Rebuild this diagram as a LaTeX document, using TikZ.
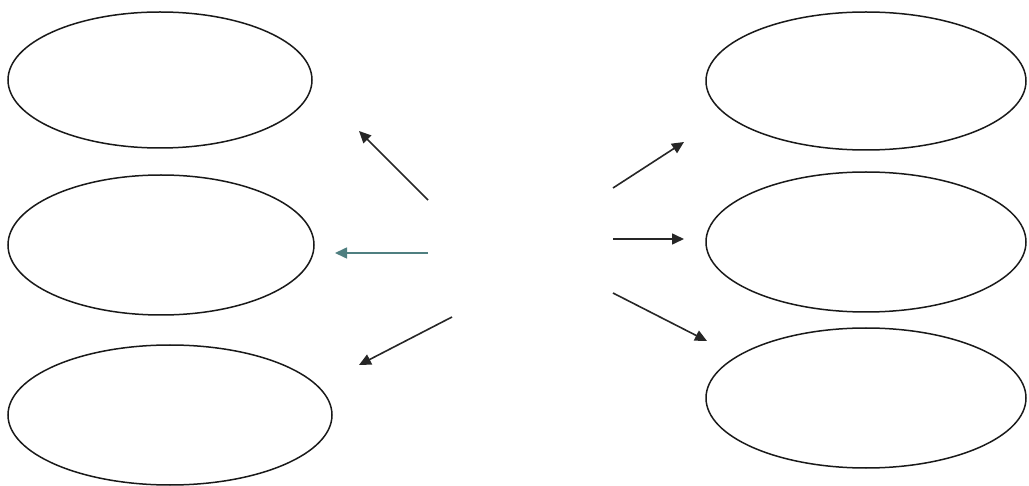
\documentclass[tikz,border=0pt]{standalone}
\usetikzlibrary{shapes.geometric,arrows.meta}
\definecolor{tealline}{HTML}{4F7F80}
\begin{document}
\begin{tikzpicture}[x=1pt,y=-1pt,
  oval/.style={draw=black!90,ellipse,line width=1.5pt,inner sep=0pt},
  arr/.style={draw=black!85,line width=1.6pt,-{Triangle[length=12pt,width=11pt]}}]
\useasboundingbox (0,0) rectangle (1029,486);
% left ellipses
\node[oval,minimum width=304pt,minimum height=136pt] (L1) at (160,80) {};
\node[oval,minimum width=306pt,minimum height=140pt] (L2) at (161,245) {};
\node[oval,minimum width=324pt,minimum height=140pt] (L3) at (170,415) {};
% right ellipses
\node[oval,minimum width=320pt,minimum height=138pt] (R1) at (866,81) {};
\node[oval,minimum width=320pt,minimum height=140pt] (R2) at (866,242) {};
\node[oval,minimum width=320pt,minimum height=140pt] (R3) at (866,398) {};
% arrow ends
\coordinate (a1s) at (428,200); \coordinate (a1e) at (359,131);
\coordinate (a2s) at (428,253); \coordinate (a2e) at (335,253);
\coordinate (a3s) at (452,317); \coordinate (a3e) at (359,365);
\coordinate (b1s) at (613,188); \coordinate (b1e) at (684,142);
\coordinate (b2s) at (613,239); \coordinate (b2e) at (684,239);
\coordinate (b3s) at (613,293); \coordinate (b3e) at (707,341);
\draw[arr] (a1s) -- (a1e);
\draw[arr,draw=tealline] (a2s) -- (a2e);
\draw[arr] (a3s) -- (a3e);
\draw[arr] (b1s) -- (b1e);
\draw[arr] (b2s) -- (b2e);
\draw[arr] (b3s) -- (b3e);
\end{tikzpicture}
\end{document}
